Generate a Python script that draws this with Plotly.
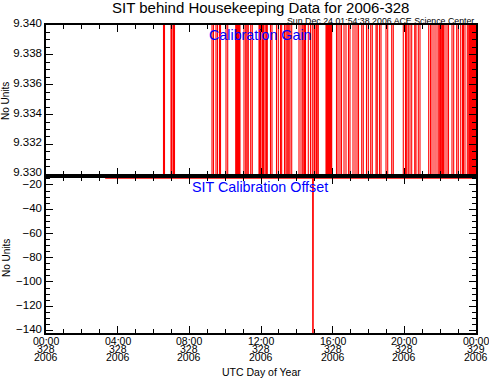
import plotly.graph_objects as go
from plotly.subplots import make_subplots

# ---------------- data ----------------
title_text = "SIT behind Housekeeping Data for 2006-328"
stamp_text = "Sun Dec 24 01:54:38 2006 ACE Science Center"
panel_labels = ["Calibration Gain", "SIT Calibration Offset"]
y_title = "No Units"
x_title = "UTC Day of Year"

tick_hours = [0, 4, 8, 12, 16, 20, 24]
tick_hhmm = ["00:00", "04:00", "08:00", "12:00", "16:00", "20:00", "00:00"]
tick_doy = ["328", "328", "328", "328", "328", "328", "329"]
tick_year = ["2006"] * 7

gain_start_hr = 3.3
gain_end_hr = 24.0
gain_low = 9.3296
gain_high = 9.3404
spike_start_hr = [6.558, 6.977, 7.116, 9.265, 9.488, 9.684, 10.047, 10.588, 10.688, 10.772,
                  11.051, 11.219, 11.425, 11.888, 12.000, 12.140, 12.296, 12.530, 12.865, 13.088,
                  13.312, 13.468, 13.619, 14.121, 14.327, 14.428, 14.640, 14.863, 15.014, 15.126,
                  15.628, 15.728, 15.829, 15.918, 16.214, 16.409, 16.633, 16.884, 17.135, 17.358,
                  17.621, 17.888, 18.123, 18.419, 18.614, 18.977, 19.295, 19.942, 20.132, 20.316,
                  20.579, 20.780, 21.360, 21.544, 21.767, 21.951, 22.063, 22.186, 22.381, 22.660,
                  22.922, 23.146, 23.302, 23.515, 23.637, 23.721, 23.805, 23.888, 23.961]
spike_end_hr = [6.614, 7.033, 7.172, 9.349, 9.572, 9.740, 10.142, 10.644, 10.733, 10.828,
                11.146, 11.291, 11.514, 11.944, 12.084, 12.223, 12.352, 12.614, 12.966, 13.155,
                13.395, 13.546, 13.714, 14.233, 14.400, 14.484, 14.763, 14.958, 15.098, 15.198,
                15.684, 15.784, 15.884, 15.946, 16.298, 16.493, 16.744, 16.967, 17.247, 17.442,
                17.710, 17.989, 18.212, 18.491, 18.698, 19.072, 19.384, 20.065, 20.221, 20.411,
                20.651, 20.874, 21.460, 21.656, 21.879, 22.019, 22.130, 22.270, 22.465, 22.755,
                23.012, 23.247, 23.386, 23.593, 23.681, 23.765, 23.849, 23.933, 24.000]

offset_times_hr = [3.3, 14.895, 14.9, 14.905, 24.0]
offset_values = [-14.3, -14.3, -142.1, -14.3, -14.3]

# ---------------- build gain series ----------------
gx = [gain_start_hr]
gy = [gain_low]
for s, e in zip(spike_start_hr, spike_end_hr):
    gx += [s, e]
    gy += [gain_high, gain_low]
gx.append(gain_end_hr)
gy.append(gain_low)

W, H = 489, 382
ML, MR, MT, MB = 46, 13, 25, 49
PW, PH = W - ML - MR, H - MT - MB


def px(xp, yp):
    return (xp - ML) / PW, (H - MB - yp) / PH


fig = make_subplots(rows=2, cols=1, shared_xaxes=False, vertical_spacing=0.0)

fig.add_trace(go.Scatter(x=gx, y=gy, mode="lines", line=dict(color="#ff0000", width=1.1, shape="hv"),
                         showlegend=False, hoverinfo="skip"), row=1, col=1)
fig.add_trace(go.Scatter(x=offset_times_hr, y=offset_values, mode="lines",
                         line=dict(color="#ff0000", width=1.6), showlegend=False, hoverinfo="skip"),
              row=2, col=1)

font_family = "Liberation Sans, Arial, sans-serif"
axis_common = dict(showline=True, linecolor="black", linewidth=1.5, mirror="ticks",
                   ticks="inside", tickcolor="black", tickwidth=1.3, showgrid=False, zeroline=False,
                   automargin=False,
                   tickfont=dict(family=font_family, size=11.5, color="black"))

top_dom = [(H - MB - 174.3) / PH, 1.0]
bot_dom = [0.0, (H - MB - 177.7) / PH]

fig.update_layout(
    width=W, height=H, margin=dict(l=ML, r=MR, t=MT, b=MB, autoexpand=False),
    paper_bgcolor="white", plot_bgcolor="white",
    xaxis=dict(**axis_common, domain=[0, 1], range=[0, 24], tickmode="linear", tick0=0, dtick=4,
               ticklen=7, showticklabels=False, anchor="y",
               minor=dict(dtick=1, ticklen=4, ticks="inside", tickcolor="black")),
    xaxis2=dict(**axis_common, domain=[0, 1], range=[0, 24], tickmode="linear", tick0=0, dtick=4,
                ticklen=7, showticklabels=False, anchor="y2", matches="x",
                minor=dict(dtick=1, ticklen=4, ticks="inside", tickcolor="black")),
    yaxis=dict(**axis_common, domain=top_dom, range=[9.330, 9.340], tickmode="linear", tick0=9.330,
               dtick=0.002, tickformat=".3f", ticklen=7, anchor="x", ticklabelshift=-2,
               minor=dict(dtick=0.0005, ticklen=4, ticks="inside", tickcolor="black")),
    yaxis2=dict(**axis_common, domain=bot_dom, range=[-142.1, -14.0], tickmode="linear", tick0=0,
                dtick=20, ticklen=7, anchor="x2", ticklabelshift=-1,
                minor=dict(dtick=5, ticklen=4, ticks="inside", tickcolor="black")),
)

ann = []
# title and stamp
x0, y0 = px(260, 8)
ann.append(dict(text=title_text, x=x0, y=y0, xref="paper", yref="paper", showarrow=False,
                xanchor="center", yanchor="middle", font=dict(family=font_family, size=15, color="black")))
x0, y0 = px(476, 20.5)
ann.append(dict(text=stamp_text, x=x0, y=y0, xref="paper", yref="paper", showarrow=False,
                xanchor="right", yanchor="middle", font=dict(family=font_family, size=8.8, color="black")))
# panel labels
for lbl, ypix in zip(panel_labels, [35, 187]):
    x0, y0 = px(260, ypix)
    ann.append(dict(text=lbl, x=x0, y=y0, xref="paper", yref="paper", showarrow=False,
                    xanchor="center", yanchor="middle", font=dict(family=font_family, size=14.3, color="#0000ff")))
# y titles
for ypix in [101, 258]:
    x0, y0 = px(6, ypix)
    ann.append(dict(text=y_title, x=x0, y=y0, xref="paper", yref="paper", showarrow=False, textangle=-90,
                    xanchor="center", yanchor="middle", font=dict(family=font_family, size=10, color="black")))
# x tick labels (three lines each)
for h, a, b, c in zip(tick_hours, tick_hhmm, tick_doy, tick_year):
    for txt, ypix in zip([a, b, c], [340.5, 348.5, 356.5]):
        _, y0 = px(0, ypix)
        ann.append(dict(text=txt, x=h, y=y0, xref="x2", yref="paper", showarrow=False,
                        xanchor="center", yanchor="middle", font=dict(family=font_family, size=10.5, color="black")))
x0, y0 = px(261, 372)
ann.append(dict(text=x_title, x=x0, y=y0, xref="paper", yref="paper", showarrow=False,
                xanchor="center", yanchor="middle", font=dict(family=font_family, size=10.5, color="black")))
fig.update_layout(annotations=ann)

fig.write_html("out.html", config={"displayModeBar": False},
               post_script="document.body.style.margin='0';document.body.style.padding='0';")
